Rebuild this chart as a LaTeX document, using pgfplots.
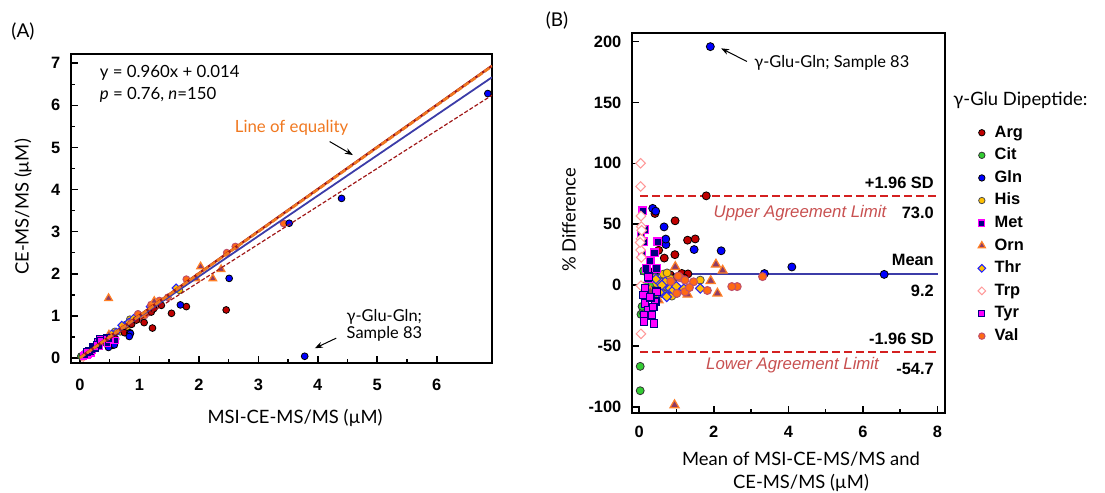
\documentclass[border=0pt]{standalone}
\usepackage{pgfplots}
\pgfplotsset{compat=1.18}
\usepackage{fontspec}
\setmainfont{Lato}
\newfontfamily\arial{Liberation Sans}
\usetikzlibrary{arrows.meta}

\definecolor{cArg}{HTML}{C00000}
\definecolor{cCit}{HTML}{33CC33}
\definecolor{cGln}{HTML}{0000FF}
\definecolor{cHis}{HTML}{FFC000}
\definecolor{cMet}{HTML}{000080}
\definecolor{cMetE}{HTML}{FF00FF}
\definecolor{cOrn}{HTML}{8E3B65}
\definecolor{cOrnE}{HTML}{FF7F27}
\definecolor{cThr}{HTML}{FFC000}
\definecolor{cThrE}{HTML}{1F1FFF}
\definecolor{cTrp}{HTML}{FF9999}
\definecolor{cTyr}{HTML}{FF00FF}
\definecolor{cTyrE}{HTML}{000080}
\definecolor{cVal}{HTML}{FF6A13}
\definecolor{cValE}{HTML}{C0506A}
\definecolor{cLine}{HTML}{F07820}
\definecolor{cBlueL}{HTML}{3C3CA8}
\definecolor{cDred}{HTML}{A01818}
\definecolor{cLim}{HTML}{D42020}
\definecolor{cLimT}{HTML}{C85050}

\newcommand{\tickfont}{\arial\bfseries\fontsize{8.2}{9.8}\selectfont}
\newcommand{\labfont}{\fontsize{9.2}{11.5}\selectfont}
\newcommand{\annfont}{\fontsize{8.4}{10.5}\selectfont}

\pgfplotsset{
  mystyle/.style={scale only axis, axis line style={line width=1pt},
    tick align=inside, tick pos=left,
    major tick length=3.5pt, minor tick length=2pt,
    tick style={black, line width=0.8pt},
    tick label style={font=\tickfont},
    /pgf/number format/assume math mode=true,
    clip mode=individual},
  sArg/.style={only marks, mark=*, mark size=#1, mark options={fill=cArg, draw=black, line width=0.4pt}},
  sCit/.style={only marks, mark=*, mark size=#1, mark options={fill=cCit, draw=black!80, line width=0.4pt}},
  sGln/.style={only marks, mark=*, mark size=#1, mark options={fill=cGln, draw=black, line width=0.4pt}},
  sHis/.style={only marks, mark=*, mark size=#1, mark options={fill=cHis, draw=black!70, line width=0.4pt}},
  sMet/.style={only marks, mark=square*, mark size=#1, mark options={fill=cMet, draw=cMetE, line width=0.6pt}},
  sOrn/.style={only marks, mark=triangle*, mark size=#1, mark options={fill=cOrn, draw=cOrnE, line width=0.6pt}},
  sThr/.style={only marks, mark=square*, mark size=#1, mark options={rotate=45, fill=cThr, draw=cThrE, line width=0.5pt}},
  sTrp/.style={only marks, mark=square*, mark size=#1, mark options={rotate=45, fill=white, draw=cTrp, line width=0.5pt}},
  sTyr/.style={only marks, mark=square*, mark size=#1, mark options={fill=cTyr, draw=cTyrE, line width=0.6pt}},
  sVal/.style={only marks, mark=*, mark size=#1, mark options={fill=cVal, draw=cValE, line width=0.5pt}},
}

\begin{document}
\begin{tikzpicture}
\path[use as bounding box] (0,0) rectangle (552.5pt,246.5pt);

% ---------------- Panel A ----------------
\begin{axis}[mystyle, at={(35.5pt,65pt)}, anchor=south west,
  width=210.5pt, height=154.5pt,
  xmin=-0.15, xmax=6.93, ymin=-0.12, ymax=7.22,
  xtick={0,1,2,3,4,5,6}, ytick={0,1,2,3,4,5,6,7},
  minor x tick num=1, minor y tick num=1,
  xticklabel style={yshift=-4.5pt}, yticklabel style={xshift=-1.8pt}]

\addplot[sTrp=1.4pt] coordinates {(0.060,0.020) (0.0562,0.0238) (0.0642,0.0358) (0.0744,0.0456) (0.0595,0.0405) (0.0458,0.0342) (0.0668,0.0532) (0.0499,0.0501) (0.040,0.060) (0.0858,0.0543) (0.0353,0.0248)};
\addplot[sCit=1.7pt] coordinates {(0.020,0.040) (0.017,0.043) (0.044,0.056) (0.089,0.111) (0.151,0.169) (0.300,0.280) (0.200,0.200) (0.127,0.113) (0.244,0.256) (0.353,0.347) (0.073,0.087) (0.384,0.416)};
\addplot[sHis=1.7pt] coordinates {(0.679,0.621) (0.853,0.807) (0.926,0.914) (0.953,0.987) (1.674,1.606) (0.779,0.801) (0.473,0.467) (0.589,0.631) (0.976,1.044) (0.444,0.416) (0.716,0.724) (0.558,0.542) (0.840,0.920) (0.788,0.713)};
\addplot[sThr=1.4pt] coordinates {(0.7095,0.6906) (0.8188,0.8412) (0.7045,0.7755) (1.6179,1.6621) (0.610,0.610) (0.9011,0.9389) (0.5335,0.5665) (0.995,1.005) (0.4613,0.4388) (1.182,1.218)};
\addplot[sVal=1.7pt] coordinates {(3.426,3.194) (2.614,2.646) (2.470,2.500) (1.790,1.870) (1.480,1.440) (1.133,1.067) (1.255,1.205) (1.196,1.264) (0.976,1.044) (1.089,1.011) (0.863,0.837) (1.3365,1.3635)};
\addplot[sOrn=2.2pt] coordinates {(2.235,1.885) (2.374,2.106) (1.954,1.886) (2.029,2.171) (1.043,0.897) (1.250,1.350) (0.482,1.418) (0.488,0.552) (0.2925,0.3075) (0.7105,0.6895)};
\addplot[sArg=1.7pt] coordinates {(2.46,1.14) (1.79,1.22) (1.54,1.06) (1.22,0.71) (1.08,0.84) (0.60,0.45) (0.75,0.60) (0.55,0.30) (0.87,0.80) (1.20,1.09) (1.37,1.25) (0.95,0.90) (0.30,0.28) (0.45,0.40) (1.24,1.17)};
\addplot[sGln=1.7pt] coordinates {(6.86,6.28) (4.40,3.79) (3.52,3.20) (3.78,0.04) (2.51,1.89) (1.69,1.26) (0.84,0.60) (0.85,0.58) (0.48,0.25) (0.58,0.31) (0.83,0.51) (0.30,0.27) (0.45,0.40)};
\addplot[sMet=1.6pt] coordinates {(0.1305,0.0695) (0.1966,0.1234) (0.0603,0.0398) (0.589,0.411) (0.4645,0.3555) (0.203,0.177) (0.502,0.438) (0.1414,0.0986) (0.330,0.270) (0.256,0.244) (0.090,0.070)};
\addplot[sTyr=1.6pt] coordinates {(0.1578,0.1622) (0.1151,0.1249) (0.4571,0.4829) (0.4005,0.4595) (0.148,0.172) (0.2243,0.2758) (0.1139,0.1461) (0.298,0.382) (0.337,0.463) (0.1105,0.1495) (0.2585,0.2415) (0.285,0.315) (0.3458,0.4142)};

% lines
\addplot[cDred, line width=0.6pt, dash pattern=on 2pt off 1pt] coordinates {(0,0) (6.93,6.24)};
\addplot[cBlueL, line width=0.9pt] coordinates {(0,0.014) (6.93,6.667)};
\addplot[cDred, line width=1.2pt] coordinates {(0,0.01) (6.93,6.94)};
\addplot[cLine, line width=1.3pt, dash pattern=on 3pt off 1.2pt] coordinates {(0,0) (6.93,6.93)};

\node[anchor=west, font=\annfont, inner sep=0pt] at (axis cs:0.33,6.77) {y = 0.960x + 0.014};
\node[anchor=west, font=\annfont, inner sep=0pt] at (axis cs:0.33,6.25) {\textit{p} = 0.76, \textit{n}=150};
\node[anchor=west, font=\annfont, inner sep=0pt, text=cLine] at (axis cs:2.6,5.46) {Line of equality};
\draw[-{Stealth[length=4pt,width=3pt]}, line width=0.5pt] (axis cs:4.20,5.14) -- (axis cs:4.59,4.82);
\node[anchor=west, font=\fontsize{8.2}{7}\selectfont, inner sep=0pt, align=left] at (axis cs:4.48,0.78) {γ-Glu-Gln;\\Sample 83};
\draw[-{Stealth[length=4pt,width=3pt]}, line width=0.5pt] (axis cs:4.31,0.47) -- (axis cs:3.95,0.23);
\end{axis}

% ---------------- Panel B ----------------
\begin{axis}[mystyle, at={(316pt,40pt)}, anchor=south west,
  width=156.5pt, height=190pt,
  xmin=-0.19, xmax=8.2, ymin=-105, ymax=207,
  xtick={0,2,4,6,8}, minor xtick={1,3,5,7},
  ytick={-100,-50,0,50,100,150,200},
  xticklabel style={yshift=-3.1pt}, yticklabel style={xshift=-1.8pt},
  legend style={at={(1.085,0.772)}, anchor=north west, draw=none, fill=none,
    font=\tickfont, row sep=2.6pt,
    nodes={inner sep=0.5pt, text height=6pt, text depth=1.7pt},
    /tikz/every odd column/.append style={column sep=4pt}},
  legend cell align=left,
  legend image code/.code={\draw[#1,/tikz/every mark/.append style={scale=0.8}] plot coordinates {(0pt,0pt)};}]

\addplot[cLim, line width=1pt, dash pattern=on 4pt off 2pt, forget plot] coordinates {(0.03,73.0) (8.0,73.0)};
\addplot[cBlueL, line width=1pt, forget plot] coordinates {(0.03,9.2) (8.0,9.2)};
\addplot[cLim, line width=1pt, dash pattern=on 4pt off 2pt, forget plot] coordinates {(0.03,-54.7) (8.0,-54.7)};

\addplot[sArg=2pt] coordinates {(1.80,73.3) (1.505,37.9) (1.30,36.9) (0.965,52.8) (0.96,25.0) (0.525,28.6) (0.675,22.2) (0.425,58.8) (0.835,8.4) (1.145,9.6) (1.31,9.2) (0.925,5.4) (0.29,6.9) (0.425,11.8) (1.205,5.8)};
\addlegendentry{Arg}
\addplot[sCit=2pt] coordinates {(0.030,-66.7) (0.030,-86.7) (0.050,-24.0) (0.100,-22.0) (0.160,-11.3) (0.290,6.9) (0.200,0.0) (0.120,11.7) (0.250,-4.8) (0.350,1.7) (0.080,-17.5) (0.400,-8.0)};
\addlegendentry{Cit}
\addplot[sGln=2pt] coordinates {(6.57,8.8) (4.095,14.9) (3.36,9.5) (1.91,195.8) (2.20,28.2) (1.475,29.2) (0.72,33.3) (0.715,37.8) (0.365,63.0) (0.445,60.7) (0.67,47.8) (0.285,10.5) (0.425,11.8)};
\addlegendentry{Gln}
\addplot[sHis=2pt] coordinates {(0.65,9.0) (0.83,5.5) (0.92,1.4) (0.97,-3.5) (1.64,4.1) (0.79,-2.7) (0.47,1.4) (0.61,-6.8) (1.01,-6.8) (0.43,6.3) (0.72,-1.0) (0.55,3.0) (0.88,-9.0) (0.75,10.0)};
\addlegendentry{His}
\addplot[sMet=1.9pt] coordinates {(0.10,61.0) (0.16,45.8) (0.05,41.0) (0.50,35.6) (0.41,26.6) (0.19,13.7) (0.47,13.7) (0.12,35.6) (0.30,20.0) (0.25,5.0) (0.08,25.0)};
\addlegendentry{Met}
\addplot[sOrn=2.6pt] coordinates {(2.06,17.0) (2.24,12.0) (1.92,3.5) (2.10,-6.8) (0.97,15.0) (1.30,-7.7) (0.95,-98.5) (0.52,-12.3) (0.30,-5.0) (0.70,3.0)};
\addlegendentry{Orn}
\addplot[sThr=1.7pt] coordinates {(0.70,2.7) (0.83,-2.7) (0.74,-9.6) (1.64,-2.7) (0.61,0.0) (0.92,-4.1) (0.55,-6.0) (1.00,-1.0) (0.45,5.0) (1.20,-3.0)};
\addlegendentry{Thr}
\addplot[sTrp=1.7pt] coordinates {(0.04,100.0) (0.04,81.0) (0.05,56.7) (0.06,48.0) (0.05,38.0) (0.04,28.8) (0.06,22.8) (0.05,-0.5) (0.05,-40.0) (0.07,45.0) (0.03,35.0)};
\addlegendentry{Trp}
\addplot[sTyr=1.9pt] coordinates {(0.16,-2.7) (0.12,-8.2) (0.47,-5.5) (0.43,-13.7) (0.16,-15.0) (0.25,-20.6) (0.13,-24.7) (0.34,-24.7) (0.40,-31.5) (0.13,-30.0) (0.25,6.8) (0.30,-10.0) (0.38,-18.0)};
\addlegendentry{Tyr}
\addplot[sVal=2pt] coordinates {(3.31,7.0) (2.63,-1.2) (2.485,-1.2) (1.83,-4.4) (1.46,2.7) (1.10,6.0) (1.23,4.1) (1.23,-5.5) (1.01,-6.8) (1.05,7.4) (0.85,3.0) (1.35,-2.0)};
\addlegendentry{Val}

\node[anchor=east, font=\tickfont, inner sep=0pt] at (axis cs:7.91,83.9) {+1.96 SD};
\node[anchor=east, font=\tickfont, inner sep=0pt] at (axis cs:7.91,59.6) {73.0};
\node[anchor=east, font=\arial\itshape\fontsize{8.4}{10}\selectfont, text=cLimT, inner sep=0pt] at (axis cs:6.64,59.2) {Upper Agreement Limit};
\node[anchor=east, font=\tickfont, inner sep=0pt] at (axis cs:7.91,20.8) {Mean};
\node[anchor=east, font=\tickfont, inner sep=0pt] at (axis cs:7.91,-4.7) {9.2};
\node[anchor=east, font=\tickfont, inner sep=0pt] at (axis cs:7.91,-43.9) {-1.96 SD};
\node[anchor=east, font=\tickfont, inner sep=0pt] at (axis cs:7.91,-68.5) {-54.7};
\node[anchor=east, font=\arial\itshape\fontsize{8.4}{10}\selectfont, text=cLimT, inner sep=0pt] at (axis cs:6.44,-65.8) {Lower Agreement Limit};
\node[anchor=west, font=\fontsize{8.2}{10}\selectfont, inner sep=0pt] at (axis cs:3.08,182.8) {γ-Glu-Gln; Sample 83};
\draw[-{Stealth[length=4pt,width=3pt]}, line width=0.5pt] (axis cs:2.89,183.6) -- (axis cs:2.2,194.4);
\end{axis}

% labels
\node[font=\fontsize{9.5}{11}\selectfont] at (11.5pt,230.5pt) {(A)};
\node[font=\fontsize{9.5}{11}\selectfont] at (278.5pt,236pt) {(B)};
\node[font=\labfont, rotate=90] at (11.5pt,143pt) {CE-MS/MS (µM)};
\node[font=\labfont] at (147.5pt,37.5pt) {MSI-CE-MS/MS (µM)};
\node[font=\labfont, rotate=90] at (284.5pt,136.5pt) {\% Difference};
\node[font=\labfont, align=center] at (400.5pt,10.5pt) {Mean of MSI-CE-MS/MS and\\CE-MS/MS (µM)};
\node[font=\labfont, anchor=west, inner sep=0pt] at (476.5pt,196.5pt) {γ-Glu Dipeptide:};
\end{tikzpicture}
\end{document}
